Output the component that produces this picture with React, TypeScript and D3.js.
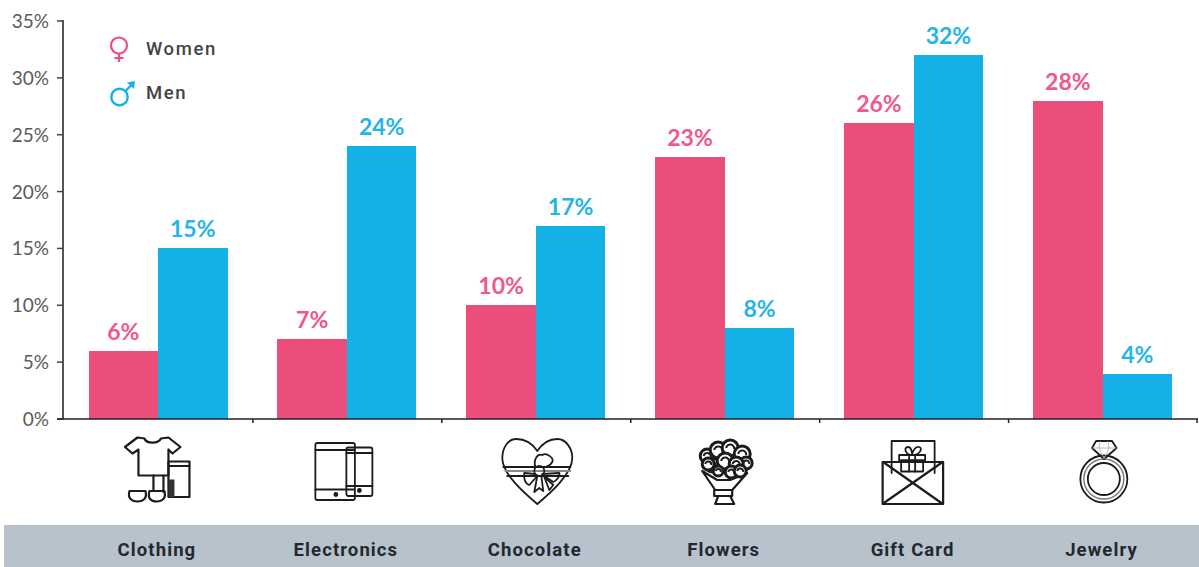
import React from "react";
import * as d3 from "d3";

const categories = ["Clothing", "Electronics", "Chocolate", "Flowers", "Gift Card", "Jewelry"];
const women = [6, 7, 10, 23, 26, 28];
const men = [15, 24, 17, 8, 32, 4];
const yTicks = [0, 5, 10, 15, 20, 25, 30, 35];
const seriesNames = ["Women", "Men"];

const PINK = "#EC4E7C";
const PINK_TEXT = "#F0588A";
const BLUE = "#14B1E6";
const BLUE_TEXT = "#25B4E6";
const INK = "#1c1c1c";

const WIDTH = 1199;
const HEIGHT = 567;

const x0 = d3.scaleBand<string>().domain(categories).range([64, 1197.5]);
const x1 = d3.scaleBand<string>().domain(seriesNames).range([24.5, 163.5]);
const y = d3.scaleLinear().domain([0, 35]).range([419, 21]);

const line = { fill: "none", stroke: INK, strokeWidth: 2.2, strokeLinejoin: "round", strokeLinecap: "round" } as const;
const fine = { ...line, strokeWidth: 1.8 };

function ClothingIcon() {
  return (
    <g>
      <rect x={10} y={-8.5} width={21} height={35.5} {...line} />
      <path d="M10,-4 H31" {...line} />
      <rect x={10} y={9.5} width={6} height={17.5} fill="#333" />
      <path d="M-33.5,-23 L-21,-32.5 L-14,-31.5 C-12,-26 0,-26 2.5,-31.5 L10,-32.5 L22,-23 L14,-16.5 L10,-20.5 V5.5 H-20 V-20.5 L-26,-16.5 Z" fill="#fff" {...line} />
      <path d="M-5,5.5 V21 M5,5.5 V22" {...line} />
      <path d="M-29,21 H-13 C-11,28 -15,31.5 -21,31.5 C-27,31.5 -31,28 -29,21 Z" {...line} />
      <path d="M-9,21 H6 C8,28 4,31.5 -2,31.5 C-8,31.5 -11,28 -9,21 Z" {...line} />
    </g>
  );
}

function ElectronicsIcon() {
  return (
    <g>
      <rect x={-32} y={-27} width={39.5} height={57} rx={2} {...fine} />
      <path d="M-32,-20 H7 M-32,19.5 H7" {...fine} />
      <circle cx={-11.5} cy={24.5} r={2.4} fill={INK} />
      <rect x={-1} y={-22.5} width={26} height={48.5} rx={2} fill="#fff" {...fine} />
      <path d="M-1,-17 H25 M-1,16 H25" {...fine} />
      <circle cx={12} cy={20.5} r={2.4} fill={INK} />
    </g>
  );
}

function ChocolateIcon() {
  return (
    <g>
      <path d="M1,-19 C-5,-28 -13,-31 -20,-31 C-29,-31 -34,-21 -34,-12 C-34,4 -12,23 1,34 C14,23 36,4 36,-12 C36,-21 30,-31 21,-31 C14,-31 7,-28 1,-19 Z" {...fine} />
      <path d="M-33,-3 H34" {...fine} />
      <path d="M-31,1 H34" {...fine} stroke="#888" />
      <path d="M-29,6 H32" {...fine} />
      <path d="M-1,-3 C-3,-10 1,-17 6,-15 C10,-18 18,-12 16,-8 C14,-4 8,-2 5,-3 Z" fill="#fff" {...fine} />
      <path d="M-1,4 L-12,3 C-13,8 -11,14 -7,15 L1,6 Z" fill="#fff" {...fine} />
      <path d="M6,4 L23,3 C24,6 20,11 17,12 L8,6 Z" fill="#fff" {...fine} />
      <path d="M1,6 L-2,22 L3,18 L7,21 L5,6 Z" fill="#fff" {...fine} />
      <path d="M8,7 L13,20 L17,15 Z" fill="#fff" {...fine} />
      <circle cx={3} cy={1} r={5} fill="#fff" {...fine} />
    </g>
  );
}

// Rose heads of the bouquet: [cx, cy, r]
const roses = [
  [-18, -14, 7], [-7, -20, 8], [5, -22, 8], [17, -16, 8], [21, -7, 6],
  [-13, -5, 7], [0, -9, 8], [11, -6, 7], [-17, -6, 6], [-7, 1, 5], [6, 2, 6], [15, 1, 6],
];

function FlowersIcon() {
  return (
    <g>
      <path d="M-23,1 L-10,20 H7 L22,3 L5,10 H-8 Z" fill="#fff" {...line} />
      {roses.map(([cx, cy, r], i) => (
        <g key={i}>
          <circle cx={cx} cy={cy} r={r} fill="#fff" stroke={INK} strokeWidth={3} />
          <path d={`M${cx - r / 2},${cy} A${r / 2},${r / 2} 0 1 1 ${cx + r / 2},${cy + 1}`} fill="none" stroke={INK} strokeWidth={2} />
        </g>
      ))}
      <rect x={-11} y={20} width={18} height={6} {...line} />
      <path d="M-7,26 L-10,34 H9 L5,26" {...line} />
    </g>
  );
}

function GiftCardIcon() {
  return (
    <g>
      <path d="M-22.5,3 V-29 H20.5 V3" {...fine} />
      <rect x={-13} y={-9.5} width={22} height={11} {...fine} />
      <rect x={-15} y={-15} width={26} height={5.5} {...fine} />
      <path d="M-5,-15 V1.5 M1,-15 V1.5" {...fine} />
      <path d="M-2,-15 C-9,-15 -11,-23 -6,-23 C-3,-23 -2,-18 -2,-15 C-2,-18 1,-24 5,-23 C9,-22 6,-15 -2,-15 Z" {...fine} />
      <rect x={-31.5} y={-8} width={60.5} height={42} {...line} />
      <path d="M-31,-8 L28,33.5 M28.5,-8 L-31,33.5" {...line} />
    </g>
  );
}

function JewelryIcon() {
  return (
    <g>
      <circle cx={0.8} cy={9} r={23.5} {...fine} />
      <circle cx={0.8} cy={9} r={20} fill="none" stroke="#777" strokeWidth={1.4} />
      <circle cx={0.8} cy={9} r={16} {...fine} />
      <path d="M-7,-29 H9 L13.5,-22 L1,-11 L-11,-22 Z" fill="#333" {...fine} />
      <path d="M-11,-22 H13.5 M-3,-29 L-4,-22 L1,-11 L6,-22 L5,-29" fill="none" stroke="#aaa" strokeWidth={0.8} />
    </g>
  );
}

const icons = [ClothingIcon, ElectronicsIcon, ChocolateIcon, FlowersIcon, GiftCardIcon, JewelryIcon];

export default function App() {
  const series = [
    { name: "Women", values: women, fill: PINK, text: PINK_TEXT },
    { name: "Men", values: men, fill: BLUE, text: BLUE_TEXT },
  ];
  const tickFont = { fontFamily: "Lato, sans-serif", fontSize: 19, fill: "#5a5a5a" };
  const valueFont = { fontFamily: "Lato, sans-serif", fontSize: 23, fontWeight: 700 };
  const nameFont = { fontFamily: "Roboto, sans-serif", fontSize: 18.5, fontWeight: 700, letterSpacing: 1.1 };
  const edges = [...categories.map((c) => x0(c)!), 1197];

  return (
    <svg
      width={WIDTH}
      height={HEIGHT}
      viewBox={`0 0 ${WIDTH} ${HEIGHT}`}
      style={{ position: "absolute", left: 0, top: 0, display: "block" }}
    >
      <rect width={WIDTH} height={HEIGHT} fill="#fff" />

      {/* Bars and their value labels */}
      {categories.map((c, i) => (
        <g key={c} transform={`translate(${x0(c)},0)`}>
          {series.map((s) => (
            <g key={s.name}>
              <rect
                x={x1(s.name)}
                y={y(s.values[i])}
                width={x1.bandwidth()}
                height={y(0) - y(s.values[i])}
                fill={s.fill}
                shapeRendering="crispEdges"
              />
              <text
                x={x1(s.name)! + x1.bandwidth() / 2}
                y={y(s.values[i]) - 11}
                textAnchor="middle"
                fill={s.text}
                {...valueFont}
              >
                {s.values[i]}%
              </text>
            </g>
          ))}
        </g>
      ))}

      {/* Value axis */}
      <line x1={63} x2={63} y1={y(35) - 1} y2={y(0)} stroke="#555" strokeWidth={2} />
      {yTicks.map((t) => (
        <g key={t}>
          <line x1={57} x2={63} y1={y(t)} y2={y(t)} stroke="#444" strokeWidth={1.5} />
          <text x={49} y={y(t) + 7} textAnchor="end" {...tickFont}>
            {t}%
          </text>
        </g>
      ))}

      {/* Category axis */}
      <line x1={57} x2={1198} y1={y(0)} y2={y(0)} stroke="#222" strokeWidth={1.6} />
      {edges.slice(1).map((e) => (
        <line key={e} x1={e} x2={e} y1={y(0)} y2={y(0) + 4} stroke="#222" strokeWidth={1.5} />
      ))}

      {/* Legend */}
      <g fill="none" stroke={PINK} strokeWidth={2.2}>
        <circle cx={119} cy={45.5} r={8} />
        <path d="M119,53.5 V62 M114.5,58 H123.5" />
      </g>
      <g fill="none" stroke={BLUE} strokeWidth={2.4}>
        <circle cx={119.5} cy={97} r={8.2} />
        <path d="M125.5,91 L133,83.5" />
      </g>
      <path d="M127,82.5 L135,81 L134,89 Z" fill={BLUE} />
      <g fontFamily="Roboto, sans-serif" fontSize={18.5} fontWeight={500} fill="#444" letterSpacing={1.6}>
        <text x={146} y={55}>Women</text>
        <text x={146} y={99}>Men</text>
      </g>

      {/* Category pictograms */}
      {categories.map((c, i) => {
        const Icon = icons[i];
        return (
          <g key={c} transform={`translate(${x0(c)! + x0.bandwidth() / 2},470)`}>
            <Icon />
          </g>
        );
      })}

      {/* Category name strip */}
      <rect x={4} y={525} width={WIDTH - 4} height={HEIGHT - 525} fill="#B8C2CC" />
      {categories.map((c) => (
        <text
          key={c}
          x={x0(c)! + x0.bandwidth() / 2 - 1.5}
          y={556}
          textAnchor="middle"
          fill="#22282d"
          {...nameFont}
        >
          {c}
        </text>
      ))}
    </svg>
  );
}
